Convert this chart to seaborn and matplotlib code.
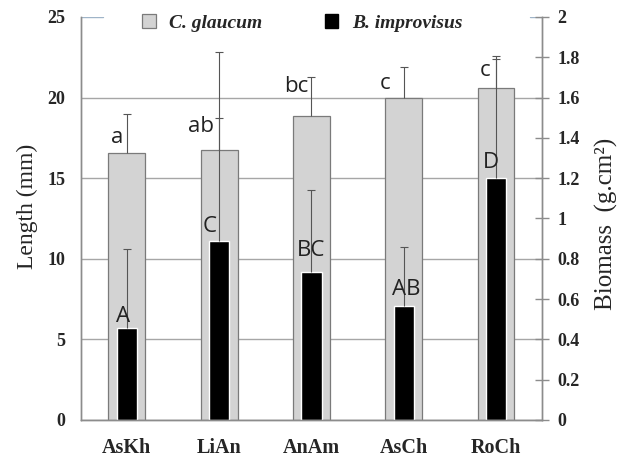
import numpy as np
import pandas as pd
import matplotlib.pyplot as plt
import seaborn as sns
from matplotlib.patches import Patch
from matplotlib.font_manager import FontProperties

# data
sites = ["AsKh", "LiAn", "AnAm", "AsCh", "RoCh"]
length_mm = [16.55, 16.76, 18.85, 20.0, 20.56]        # C. glaucum, left axis
length_top = [19.0, 22.8, 21.3, 21.9, 22.6]           # upper end of error bar
biomass = [0.455, 0.89, 0.736, 0.566, 1.2]            # B. improvisus, right axis
biomass_top = [0.85, 1.50, 1.14, 0.86, 1.79]
letters_len = ["a", "ab", "bc", "c", "c"]
letters_bio = ["A", "C", "BC", "AB", "D"]

df = pd.DataFrame({"Site": sites, "Length": length_mm, "Biomass": biomass})

sns.set_style("white")
plt.rcParams["font.family"] = ["Liberation Serif", "DejaVu Serif"]

grey = "#d3d3d3"
edge = "#7a7a7a"
line_c = "#8c8c8c"


def upper_errorbar(axis, means, tops):
    # error bars drawn only upwards, no cap at the bar top
    eb = axis.errorbar(range(len(means)), means,
                       yerr=[[0] * len(means), [t - m for t, m in zip(tops, means)]],
                       fmt="none", ecolor="#555555", elinewidth=0.8,
                       capsize=3, capthick=0.8)
    for cl in eb[1]:
        if np.allclose(cl.get_ydata(), means):
            cl.set_visible(False)


fig = plt.figure(figsize=(6.26, 4.57), dpi=100)
ax = fig.add_axes([0.129, 0.081, 0.737, 0.882])

sns.barplot(data=df, x="Site", y="Length", ax=ax, color=grey, saturation=1,
            edgecolor=edge, linewidth=0.9, width=0.4)
upper_errorbar(ax, length_mm, length_top)

ax2 = ax.twinx()
sns.barplot(data=df, x="Site", y="Biomass", ax=ax2, color="black", saturation=1,
            width=0.22)
upper_errorbar(ax2, biomass, biomass_top)

# left axis
ax.set_ylim(0, 25)
ax.set_yticks([0, 5, 10, 15, 20, 25])
ax.set_xlim(-0.5, 4.5)
ax.set_axisbelow(True)
ax.grid(axis="y", color="#a6a6a6", linewidth=1)
ax.get_ygridlines()[-1].set_visible(False)
ax.axhline(25, xmin=0, xmax=0.048, color="#9fb4c8", linewidth=1)
ax.axhline(25, xmin=0.974, xmax=1, color="#9fb4c8", linewidth=1)
ax.tick_params(axis="y", length=0, pad=11, labelsize=13)
ax.tick_params(axis="x", which="major", length=0, pad=13, labelsize=14.5)
ax.set_xticks([i - 0.5 for i in range(len(sites) + 1)], minor=True)
ax.tick_params(axis="x", which="minor", length=5, width=1, color=line_c, direction="out")
for lab in ax.get_xticklabels() + ax.get_yticklabels():
    lab.set_fontweight("bold")
ax.set_xlabel("")
ax.set_ylabel("Length (mm)", fontsize=17)
ax.yaxis.set_label_coords(-0.093, 0.531)

# right axis
ax2.set_ylim(0, 2)
bio_ticks = [i * 0.2 for i in range(11)]
ax2.set_yticks(bio_ticks)
ax2.set_yticklabels([f"{v:.1f}".rstrip("0").rstrip(".") for v in bio_ticks])
ax2.tick_params(axis="y", direction="inout", length=10, width=1, color=line_c,
                pad=6, labelsize=13)
for lab in ax2.get_yticklabels():
    lab.set_fontweight("bold")
ax2.set_ylabel("Biomass  (g.cm²)", fontsize=18)
ax2.yaxis.set_label_coords(1.115, 0.486)
ax2.set_xlabel("")

for a in (ax, ax2):
    a.spines["top"].set_visible(False)
    for s in ("left", "right", "bottom"):
        a.spines[s].set_color(line_c)
        a.spines[s].set_linewidth(1)

# significance letters
len_pos = [(-0.10, 17.5), (0.80, 18.2), (1.84, 20.7), (2.80, 20.9), (3.88, 21.7)]
bio_pos = [(-0.04, 6.4), (0.90, 12.0), (2.00, 10.5), (3.03, 8.1), (3.95, 16.0)]
for txt, (x, y) in zip(letters_len, len_pos):
    ax2.text(x, y / 12.5, txt, ha="center", va="center", fontsize=16,
             family=["Open Sans", "DejaVu Sans"], color="#222222")
for txt, (x, y) in zip(letters_bio, bio_pos):
    ax2.text(x, y / 12.5, txt, ha="center", va="center", fontsize=16,
             family=["Open Sans", "DejaVu Sans"], color="#222222")

handles = [Patch(facecolor=grey, edgecolor=edge, linewidth=0.9),
           Patch(facecolor="black", edgecolor="black")]
ax2.legend(handles, ["C. glaucum", "B. improvisus"], loc="center",
           bbox_to_anchor=(0.48, 0.985), ncol=2, frameon=False,
           prop=FontProperties(family="Liberation Serif", weight="bold",
                               style="italic", size=14),
           handlelength=0.7, handleheight=0.7, handletextpad=0.7,
           columnspacing=3.2)

plt.savefig("out.png", dpi=100)
